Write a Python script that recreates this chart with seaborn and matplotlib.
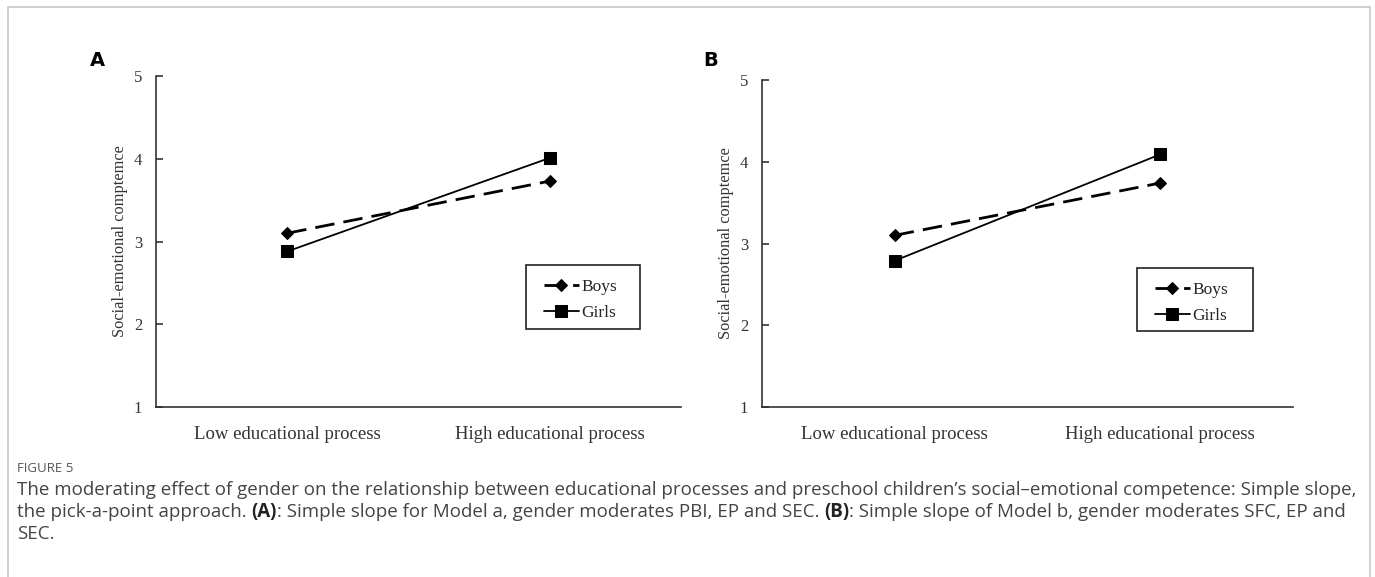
import pandas as pd
import seaborn as sns
import matplotlib.pyplot as plt
from matplotlib.patches import Rectangle

# Data
levels = ["Low educational process", "High educational process"]
genders = ["Boys", "Girls"]
boys_a = [3.10, 3.73]
girls_a = [2.88, 4.01]
boys_b = [3.10, 3.74]
girls_b = [2.79, 4.09]
ylabel = "Social-emotional comptemce"


def make_df(boys, girls):
    rows = []
    for lvl, b, g in zip(levels, boys, girls):
        rows.append({"level": lvl, "gender": "Boys", "sec": b})
        rows.append({"level": lvl, "gender": "Girls", "sec": g})
    return pd.DataFrame(rows)


sns.set_theme(style="white")
plt.rcParams["font.family"] = ["Liberation Serif", "DejaVu Serif"]

W, H = 1375, 577
fig = plt.figure(figsize=(13.75, 5.77), dpi=100)

# light frame around the whole figure
fig.patches.append(Rectangle((8 / W, -0.05), 1362 / W, 1.05 - 7 / H,
                             transform=fig.transFigure, fill=False,
                             edgecolor="#c8c8c8", linewidth=1.2))

styles = {
    "Boys": dict(marker="D", markersize=6, linestyle=(0, (7, 3.3)), linewidth=2.0),
    "Girls": dict(marker="s", markersize=8, linestyle="-", linewidth=1.3),
}

# panel letter, data, axes box (px), legend box (px)
panels = [
    ("A", make_df(boys_a, girls_a), [156, 76, 681, 407], [526, 265, 640, 329]),
    ("B", make_df(boys_b, girls_b), [762, 80, 1293, 407], [1137, 268, 1253, 331]),
]

for letter, df, (x0, y0, x1, y1), (lx0, ly0, lx1, ly1) in panels:
    ax = fig.add_axes([x0 / W, 1 - y1 / H, (x1 - x0) / W, (y1 - y0) / H])
    for g in genders:
        sub = df[df["gender"] == g]
        sns.lineplot(data=sub, x="level", y="sec", ax=ax, color="black",
                     markeredgecolor="black", label=g, sort=False, **styles[g])
    ax.set_xlim(-0.5, 1.5)
    ax.set_ylim(1, 5)
    ax.set_yticks([1, 2, 3, 4, 5])
    ax.set_xticks([0, 1])
    ax.set_xticklabels(levels)
    ax.set_xticks([0.5, 1.5], minor=True)
    ax.tick_params(axis="x", which="major", length=0, pad=14, labelsize=13.5,
                   labelcolor="#333333")
    ax.tick_params(axis="x", which="minor", direction="in", length=5,
                   width=1.2, color="#333333")
    ax.tick_params(axis="y", which="major", direction="in", length=5, width=1.2,
                   color="#333333", left=True, pad=10, labelsize=12,
                   labelcolor="#333333")
    ax.set_xlabel("")
    ax.set_ylabel(ylabel, fontsize=11.8, color="#333333", labelpad=4)
    for s in ["top", "right"]:
        ax.spines[s].set_visible(False)
    for s in ["left", "bottom"]:
        ax.spines[s].set_color("#333333")
        ax.spines[s].set_linewidth(1.2)

    # legend box drawn separately so its size matches the original
    ax.add_patch(Rectangle(((lx0 - x0) / (x1 - x0), (y1 - ly1) / (y1 - y0)),
                           (lx1 - lx0) / (x1 - x0), (ly1 - ly0) / (y1 - y0),
                           transform=ax.transAxes, fill=False,
                           edgecolor="#222222", linewidth=1.2, zorder=5))
    ax.legend(loc="upper left",
              bbox_to_anchor=((lx0 + 18 - x0) / (x1 - x0),
                              (y1 - ly0 - 14) / (y1 - y0)),
              frameon=False, fontsize=12.5, handlelength=2.0,
              handletextpad=0.15, borderpad=0, labelspacing=0.57,
              borderaxespad=0)

    fig.text((x0 - 66 if letter == "A" else x0 - 59) / W, 1 - 60 / H, letter,
             family="DejaVu Sans", fontweight="bold", fontsize=14,
             va="center", ha="left", color="black")

# caption
cap_font = ["Open Sans", "DejaVu Sans"]
fig.text(17 / W, 1 - 468 / H, "FIGURE 5", family=cap_font, fontsize=9.5,
         color="#555555", va="center")

lines = [
    [("The moderating effect of gender on the relationship between educational processes and preschool children\u2019s social\u2013emotional competence: Simple slope,", "normal")],
    [("the pick-a-point approach. ", "normal"), ("(A)", "bold"),
     (": Simple slope for Model a, gender moderates PBI, EP and SEC. ", "normal"),
     ("(B)", "bold"), (": Simple slope of Model b, gender moderates SFC, EP and", "normal")],
    [("SEC.", "normal")],
]
line_y = [490, 512, 534]

fig.canvas.draw()
renderer = fig.canvas.get_renderer()
for parts, yy in zip(lines, line_y):
    xpos = 17
    for txt, wt in parts:
        t = fig.text(xpos / W, 1 - yy / H, txt, family=cap_font, fontsize=13.5,
                     color="#444444" if wt == "normal" else "#222222",
                     fontweight=wt, va="center", ha="left")
        bb = t.get_window_extent(renderer)
        xpos += bb.width

fig.savefig("out.png", dpi=100)
